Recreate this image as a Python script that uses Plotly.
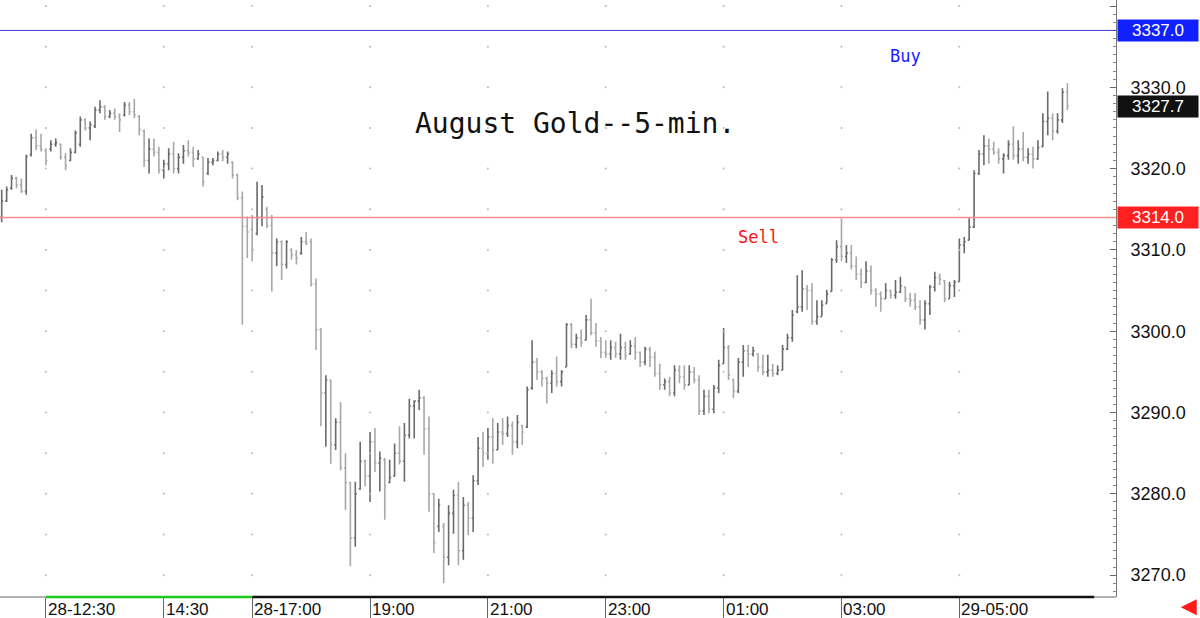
import pandas as pd
import plotly.graph_objects as go

# ---- time axis (5-minute bars, with the 16:00-17:00 session break removed)
session1 = pd.date_range("2025-07-28 11:45", "2025-07-28 15:55", freq="5min")
session2 = pd.date_range("2025-07-28 17:00", "2025-07-29 06:50", freq="5min")
times = [f"{t:%m-%d %H:%M}" for t in list(session1) + list(session2)]

# ---- OHLC values
opens = [3314.0, 3316.0, 3317.6, 3318.8, 3318.0, 3317.2, 3321.7, 3323.8, 3322.8, 3322.2,
         3322.4, 3323.0, 3323.0, 3321.4, 3321.0, 3322.0, 3323.0, 3326.0, 3325.0, 3325.2,
         3327.2, 3327.6, 3326.4, 3326.8, 3326.4, 3326.6, 3327.8, 3327.0, 3326.4, 3324.6,
         3321.0, 3322.4, 3322.0, 3319.8, 3320.6, 3321.8, 3320.0, 3321.4, 3322.2, 3322.0,
         3321.2, 3321.4, 3319.4, 3320.8, 3321.0, 3321.8, 3321.4, 3320.8, 3319.2, 3316.4,
         3312.9, 3312.5, 3312.0, 3314.0, 3315.0, 3313.0, 3309.6, 3311.0, 3308.2, 3310.0,
         3309.4, 3309.6, 3311.0, 3311.0, 3305.8, 3300.2, 3292.4, 3294.0, 3286.0, 3288.8,
         3283.2, 3281.4, 3274.6, 3280.6, 3284.0, 3282.2, 3286.4, 3283.8, 3284.2, 3281.4,
         3282.2, 3285.0, 3284.0, 3287.2, 3290.8, 3291.4, 3291.8, 3288.0, 3280.0, 3276.0,
         3276.0, 3272.2, 3277.6, 3279.8, 3273.0, 3278.6, 3277.0, 3281.6, 3285.6, 3285.0,
         3287.0, 3285.4, 3287.6, 3287.4, 3288.4, 3286.4, 3288.4, 3288.2, 3293.0, 3296.2,
         3295.0, 3294.2, 3293.6, 3294.8, 3293.8, 3295.6, 3300.8, 3298.4, 3299.2, 3298.9,
         3301.4, 3299.8, 3298.8, 3297.4, 3297.2, 3298.0, 3297.2, 3298.0, 3297.2, 3298.2,
         3297.4, 3296.2, 3297.8, 3296.8, 3294.8, 3293.4, 3293.8, 3292.4, 3295.2, 3294.4,
         3293.4, 3295.0, 3294.0, 3290.2, 3292.0, 3290.4, 3293.0, 3296.0, 3298.0, 3294.0,
         3292.6, 3296.2, 3297.6, 3297.2, 3297.2, 3295.6, 3295.0, 3295.2, 3294.8, 3295.2,
         3297.8, 3299.2, 3302.4, 3303.0, 3305.2, 3305.0, 3301.2, 3301.8, 3303.4, 3304.9,
         3308.8, 3310.4, 3309.2, 3309.6, 3308.0, 3307.0, 3306.0, 3307.4, 3305.0, 3304.6,
         3304.0, 3305.0, 3304.4, 3304.8, 3305.4, 3304.0, 3303.8, 3303.0, 3301.4, 3303.4,
         3305.4, 3306.6, 3306.2, 3304.0, 3305.6, 3306.1, 3310.6, 3311.2, 3312.8, 3319.4,
         3321.8, 3322.8, 3322.4, 3322.0, 3321.2, 3321.6, 3323.0, 3321.6, 3322.4, 3321.4,
         3321.8, 3321.2, 3322.7, 3325.8, 3326.2, 3324.6, 3326.0, 3329.4]
highs = [3317.4, 3317.8, 3319.2, 3319.0, 3318.8, 3321.7, 3324.3, 3324.8, 3324.3, 3322.5,
         3323.5, 3323.7, 3323.1, 3321.9, 3322.5, 3324.7, 3326.4, 3326.2, 3325.8, 3327.6,
         3328.4, 3327.8, 3327.2, 3327.4, 3326.8, 3328.2, 3328.2, 3328.6, 3326.6, 3324.8,
         3323.7, 3323.7, 3322.7, 3321.1, 3322.5, 3323.3, 3321.9, 3322.9, 3323.5, 3322.7,
         3322.3, 3321.5, 3321.3, 3321.3, 3322.1, 3322.3, 3322.1, 3320.9, 3319.4, 3317.2,
         3314.1, 3314.3, 3318.4, 3318.0, 3315.3, 3314.3, 3311.4, 3311.2, 3311.2, 3310.2,
         3310.0, 3311.6, 3312.2, 3311.4, 3306.5, 3300.4, 3294.6, 3294.0, 3289.3, 3291.3,
         3285.0, 3281.5, 3281.5, 3286.4, 3284.2, 3287.6, 3288.1, 3285.2, 3284.4, 3284.2,
         3286.2, 3288.3, 3288.7, 3291.7, 3291.5, 3292.8, 3292.0, 3289.5, 3280.1, 3279.4,
         3276.4, 3278.6, 3280.5, 3281.5, 3279.6, 3279.0, 3282.3, 3287.0, 3287.6, 3288.1,
         3289.3, 3288.7, 3289.3, 3289.5, 3288.9, 3289.7, 3288.5, 3293.2, 3298.9, 3296.7,
         3295.2, 3294.4, 3295.2, 3296.9, 3295.2, 3301.0, 3301.0, 3299.7, 3300.2, 3302.0,
         3304.0, 3301.0, 3299.3, 3298.9, 3298.9, 3298.7, 3299.7, 3298.7, 3298.9, 3299.3,
         3297.5, 3298.1, 3298.1, 3297.5, 3296.0, 3294.2, 3294.4, 3295.8, 3295.8, 3295.8,
         3295.8, 3295.6, 3294.6, 3292.8, 3292.8, 3293.4, 3296.5, 3300.4, 3298.3, 3294.2,
         3296.7, 3298.3, 3298.3, 3298.1, 3297.3, 3297.1, 3297.1, 3296.0, 3295.8, 3298.3,
         3299.7, 3302.6, 3306.9, 3307.5, 3305.7, 3305.9, 3303.8, 3303.8, 3305.1, 3309.0,
         3311.2, 3313.9, 3310.6, 3310.6, 3309.2, 3307.7, 3308.6, 3308.1, 3305.3, 3304.9,
         3305.9, 3305.1, 3306.3, 3306.7, 3305.5, 3304.7, 3304.7, 3303.8, 3303.8, 3305.7,
         3307.3, 3307.1, 3306.3, 3306.1, 3306.3, 3311.4, 3311.6, 3313.9, 3319.8, 3322.3,
         3324.1, 3323.7, 3323.3, 3322.5, 3321.9, 3323.5, 3325.2, 3323.5, 3324.5, 3322.5,
         3322.7, 3323.5, 3326.8, 3329.5, 3326.8, 3326.8, 3329.9, 3330.5]
lows = [3313.4, 3315.9, 3317.4, 3317.6, 3317.0, 3316.8, 3321.5, 3322.3, 3322.1, 3320.4,
        3322.1, 3322.7, 3321.1, 3319.8, 3320.9, 3321.9, 3322.7, 3324.7, 3323.5, 3325.0,
        3326.8, 3326.0, 3326.2, 3326.0, 3324.5, 3326.4, 3326.6, 3326.2, 3324.1, 3320.2,
        3319.4, 3321.5, 3319.4, 3318.8, 3319.8, 3319.4, 3319.4, 3320.6, 3321.5, 3320.2,
        3321.1, 3317.8, 3319.2, 3320.4, 3320.9, 3320.9, 3320.6, 3318.8, 3316.1, 3300.8,
        3309.0, 3308.6, 3311.8, 3312.9, 3312.7, 3304.9, 3308.0, 3306.3, 3307.7, 3308.8,
        3308.2, 3309.4, 3310.6, 3305.5, 3297.7, 3288.3, 3285.8, 3283.7, 3285.4, 3282.9,
        3278.0, 3271.1, 3273.5, 3280.5, 3280.9, 3279.0, 3282.7, 3280.3, 3276.8, 3281.3,
        3282.1, 3283.6, 3281.5, 3286.8, 3286.8, 3290.3, 3284.8, 3277.8, 3272.7, 3275.3,
        3269.0, 3271.2, 3275.1, 3271.2, 3271.9, 3274.9, 3275.3, 3281.1, 3283.3, 3284.2,
        3283.7, 3285.4, 3286.0, 3287.0, 3284.8, 3285.6, 3286.0, 3288.1, 3292.8, 3294.0,
        3293.2, 3291.1, 3292.4, 3293.2, 3293.2, 3295.6, 3297.9, 3297.9, 3298.1, 3298.9,
        3299.5, 3298.1, 3296.7, 3296.7, 3296.5, 3296.7, 3296.5, 3296.5, 3297.1, 3296.5,
        3295.6, 3295.8, 3295.6, 3294.4, 3292.8, 3292.8, 3292.0, 3292.0, 3293.6, 3292.8,
        3293.4, 3293.6, 3289.7, 3289.7, 3289.9, 3289.9, 3292.4, 3296.0, 3294.0, 3291.8,
        3292.4, 3294.4, 3295.6, 3296.9, 3295.0, 3294.6, 3294.4, 3294.4, 3294.6, 3295.2,
        3297.7, 3298.7, 3302.2, 3302.4, 3302.6, 3300.8, 3300.8, 3301.8, 3303.4, 3304.9,
        3308.4, 3308.6, 3308.4, 3307.6, 3306.3, 3305.3, 3305.9, 3304.5, 3303.0, 3302.4,
        3304.0, 3304.0, 3304.0, 3304.7, 3303.6, 3303.0, 3302.6, 3300.8, 3300.2, 3302.0,
        3304.9, 3305.7, 3303.6, 3304.0, 3304.2, 3306.1, 3309.6, 3311.2, 3312.7, 3319.2,
        3320.4, 3320.6, 3321.7, 3320.6, 3319.4, 3321.1, 3321.1, 3320.6, 3320.9, 3320.6,
        3320.0, 3321.1, 3322.7, 3324.1, 3323.5, 3324.3, 3325.6, 3327.2]
closes = [3316.0, 3317.4, 3318.8, 3318.0, 3317.2, 3321.5, 3323.8, 3322.8, 3322.4, 3321.0,
          3323.0, 3323.2, 3321.4, 3320.4, 3322.0, 3324.4, 3326.0, 3325.0, 3325.4, 3327.2,
          3327.6, 3326.4, 3326.8, 3326.4, 3326.0, 3327.8, 3327.0, 3326.6, 3324.8, 3321.0,
          3322.4, 3322.0, 3319.8, 3320.6, 3321.8, 3320.0, 3321.4, 3322.2, 3322.0, 3321.2,
          3321.8, 3318.4, 3320.8, 3321.0, 3321.8, 3321.4, 3321.8, 3319.2, 3316.4, 3312.9,
          3312.2, 3310.0, 3314.0, 3316.5, 3313.0, 3309.6, 3311.0, 3308.2, 3311.0, 3309.4,
          3309.0, 3311.0, 3310.8, 3305.8, 3300.2, 3292.4, 3294.0, 3286.0, 3288.8, 3283.2,
          3281.4, 3274.6, 3280.0, 3284.0, 3282.2, 3286.4, 3283.8, 3284.4, 3281.0, 3282.0,
          3285.0, 3284.0, 3287.2, 3290.8, 3291.4, 3291.8, 3288.0, 3280.0, 3274.0, 3278.6,
          3272.2, 3277.6, 3279.8, 3273.0, 3278.6, 3277.0, 3281.6, 3285.6, 3285.0, 3287.0,
          3285.4, 3287.6, 3287.4, 3288.4, 3286.4, 3288.8, 3287.6, 3292.8, 3296.2, 3295.0,
          3294.2, 3293.6, 3294.8, 3293.8, 3295.0, 3300.8, 3298.4, 3299.2, 3298.6, 3301.4,
          3299.8, 3298.8, 3297.4, 3297.2, 3298.0, 3297.2, 3298.0, 3297.0, 3298.2, 3297.4,
          3296.2, 3297.8, 3296.8, 3294.8, 3293.4, 3293.8, 3292.4, 3295.2, 3294.4, 3293.4,
          3295.0, 3294.0, 3290.2, 3292.0, 3290.4, 3293.0, 3295.8, 3298.0, 3294.6, 3292.6,
          3296.2, 3297.6, 3297.2, 3297.6, 3295.6, 3295.0, 3295.2, 3294.8, 3295.2, 3297.8,
          3299.2, 3302.0, 3303.0, 3305.2, 3305.0, 3301.2, 3301.8, 3303.2, 3304.6, 3308.8,
          3310.4, 3309.2, 3309.6, 3308.0, 3307.0, 3306.0, 3307.4, 3305.0, 3304.6, 3304.0,
          3305.0, 3304.4, 3304.8, 3305.6, 3304.0, 3303.8, 3303.0, 3301.4, 3303.4, 3305.4,
          3306.6, 3306.4, 3304.0, 3305.6, 3306.0, 3310.6, 3311.0, 3312.8, 3319.4, 3321.8,
          3322.8, 3322.4, 3322.0, 3321.2, 3321.6, 3323.0, 3321.6, 3322.4, 3321.4, 3321.8,
          3321.2, 3322.6, 3325.8, 3326.2, 3324.6, 3326.0, 3329.4, 3327.7]

# ---- axis labels / reference levels
x_tick_times = ["07-28 12:30", "07-28 14:30", "07-28 17:00", "07-28 19:00", "07-28 21:00",
                "07-28 23:00", "07-29 01:00", "07-29 03:00", "07-29 05:00"]
x_tick_labels = ["28-12:30", "14:30", "28-17:00", "19:00", "21:00",
                 "23:00", "01:00", "03:00", "29-05:00"]
y_ticks = [3270, 3280, 3290, 3300, 3310, 3320, 3330, 3340]
y_grid_dots = [3270, 3275, 3280, 3285, 3290, 3295, 3300, 3305, 3310, 3315,
               3320, 3325, 3330, 3335, 3340]
buy_level = 3337.0
sell_level = 3314.0
last_price = closes[-1]
title_text = "August Gold--5-min."

fig = go.Figure()

fig.add_trace(go.Ohlc(
    x=times, open=opens, high=highs, low=lows, close=closes,
    increasing=dict(line=dict(color="#6a6a6a", width=1.6)),
    decreasing=dict(line=dict(color="#a8a8a8", width=1.6)),
    tickwidth=0.3, showlegend=False, hoverinfo="skip",
))

# faint dotted grid (dots at time-label columns)
gx, gy = [], []
for t in x_tick_times:
    for v in y_grid_dots:
        gx.append(t)
        gy.append(v)
fig.add_trace(go.Scatter(x=gx, y=gy, mode="markers",
                         marker=dict(size=2, color="#b8b8b8"),
                         hoverinfo="skip", showlegend=False))

n = len(times)
x_left = -0.35
x_right = n - 1 + 9.9

shapes = [
    dict(type="line", xref="paper", yref="y", x0=0, x1=1, y0=buy_level, y1=buy_level,
         line=dict(color="#3a3ad0", width=1)),
    dict(type="line", xref="paper", yref="y", x0=0, x1=1, y0=sell_level, y1=sell_level,
         line=dict(color="#ff8c8c", width=1.5)),
]
i1230 = times.index(x_tick_times[0])
i1700 = times.index(x_tick_times[2])
shapes += [
    dict(type="line", xref="x", yref="paper", x0=x_left, x1=i1230, y0=0, y1=0,
         line=dict(color="#9a9a9a", width=1.5)),
    dict(type="line", xref="x", yref="paper", x0=i1230, x1=i1700, y0=0, y1=0,
         line=dict(color="#1ec81e", width=2.5)),
    dict(type="line", xref="x", yref="paper", x0=i1700, x1=n + 4.5, y0=0, y1=0,
         line=dict(color="#111111", width=2.5)),
    dict(type="line", xref="x", yref="paper", x0=n + 4.5, x1=x_right, y0=0, y1=0,
         line=dict(color="#9a9a9a", width=1.5)),
]

annotations = []
for t, lab in zip(x_tick_times, x_tick_labels):
    annotations.append(dict(x=t, xref="x", y=0, yref="paper", text=lab, showarrow=False,
                            xanchor="left", yanchor="top", xshift=0, yshift=-1,
                            font=dict(family="Liberation Sans", size=17, color="#111")))

annotations.append(dict(x=0.515, xref="paper", y=3325.6, yref="y", text=title_text,
                        showarrow=False, xanchor="center", yanchor="middle",
                        font=dict(family="DejaVu Sans Mono", size=28, color="#111")))
annotations.append(dict(x=times[184], xref="x", y=3333.8, yref="y", text="Buy",
                        showarrow=False, xanchor="center", yanchor="middle",
                        font=dict(family="DejaVu Sans Mono", size=17, color="#1a1aff")))
annotations.append(dict(x=times[154], xref="x", y=3311.6, yref="y", text="Sell",
                        showarrow=False, xanchor="center", yanchor="middle",
                        font=dict(family="DejaVu Sans Mono", size=17, color="#ff1010")))

for lvl, bg in [(buy_level, "#1020ff"), (last_price, "#111111"), (sell_level, "#ff2020")]:
    annotations.append(dict(x=1, xref="paper", y=lvl, yref="y", text=f"{lvl:.1f}",
                            showarrow=False, xanchor="left", yanchor="middle", xshift=1,
                            bgcolor=bg, width=78, align="center", borderpad=1,
                            font=dict(family="Liberation Sans", size=17, color="white")))

# small red arrow in bottom-right corner
annotations.append(dict(x=1.058, xref="paper", y=-0.017, yref="paper", text="",
                        showarrow=True, ax=16, ay=0, arrowhead=2, arrowsize=0.8,
                        arrowwidth=4, arrowcolor="#ff1a1a"))

fig.update_layout(
    width=1200, height=618,
    margin=dict(l=0, r=84, t=0, b=21),
    paper_bgcolor="white", plot_bgcolor="white",
    showlegend=False,
    shapes=shapes, annotations=annotations,
    xaxis=dict(type="category", categoryorder="array", categoryarray=times,
               range=[x_left, x_right], rangeslider=dict(visible=False),
               showgrid=False, zeroline=False, showline=False,
               tickmode="array", tickvals=x_tick_times, ticktext=[""] * len(x_tick_times),
               ticks="outside", ticklen=21, tickwidth=1, tickcolor="#666"),
    yaxis=dict(side="right", range=[3267.31, 3340.74], showgrid=False, zeroline=False,
               showline=True, linecolor="#777", linewidth=1, mirror=False,
               tickmode="array", tickvals=y_ticks, ticktext=[f"{v:.1f}" for v in y_ticks],
               ticks="inside", ticklen=6, tickcolor="#666",
               minor=dict(dtick=1, ticks="inside", ticklen=3, tickcolor="#888"),
               ticklabelstandoff=10,
               tickfont=dict(family="Liberation Sans", size=18, color="#111")),
)

fig.write_html("out.html")
